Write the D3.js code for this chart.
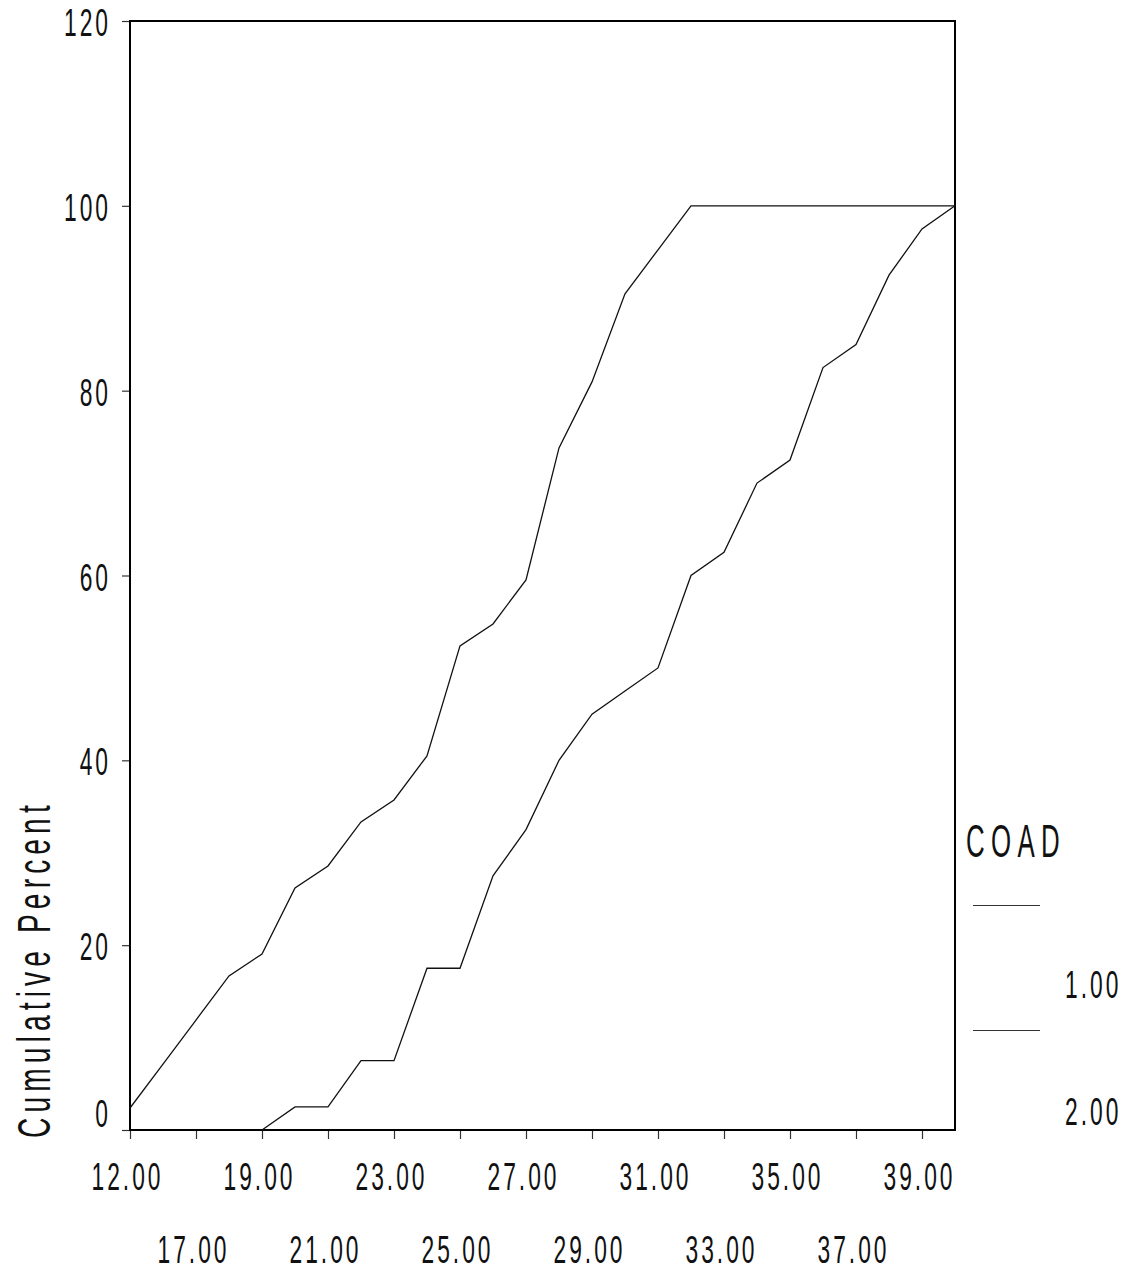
<!DOCTYPE html>
<html>
<head>
<meta charset="utf-8">
<script src="https://cdn.jsdelivr.net/npm/d3@7"></script>
<style>
  html, body { margin: 0; padding: 0; background: #fff; }
  svg { display: block; }
  text { font-family: "Liberation Sans", Arial, sans-serif; fill: #111; }
</style>
</head>
<body>
<svg id="chart" width="1132" height="1272"></svg>
<script>
// ---- data ----
const categories = ["12.00","16.00","17.00","18.00","19.00","20.00","21.00","22.00","23.00","24.00","25.00","26.00","27.00","28.00","29.00","30.00","31.00","32.00","33.00","34.00","35.00","36.00","37.00","38.00","39.00","40.00"];
const xTickLabels = ["12.00","17.00","19.00","21.00","23.00","25.00","27.00","29.00","31.00","33.00","35.00","37.00","39.00"];
const yTicks = [0, 20, 40, 60, 80, 100, 120];
const seriesNames = ["1.00", "2.00"];
const coad1 = [2.38,7.14,11.90,16.67,19.05,26.19,28.57,33.33,35.71,40.48,52.38,54.76,59.52,73.81,80.95,90.48,95.24,100,100,100,100,100,100,100,100,100];
const coad2 = [null,null,null,null,0,2.5,2.5,7.5,7.5,17.5,17.5,27.5,32.5,40,45,47.5,50,60,62.5,70,72.5,82.5,85,92.5,97.5,100];
const legendTitle = "COAD";
const yTitle = "Cumulative Percent";

// ---- layout ----
const svg = d3.select("#chart");
const L = 130, R = 955, T = 21, B = 1130;
const x = d3.scalePoint().domain(categories).range([L, R]).padding(0);
const y = d3.scaleLinear().domain([0, 120]).range([B, T]);

const SX = 0.6, FS = 38, LS = 5;

// y axis
const gy = svg.append("g").attr("transform", `translate(${L},0)`)
  .call(d3.axisLeft(y).tickValues(yTicks).tickSize(8).tickSizeOuter(0).tickFormat(d3.format("d")));
gy.select(".domain").remove();
gy.selectAll(".tick line").attr("stroke", "#333").attr("stroke-width", 1.2);
gy.selectAll(".tick text")
  .attr("x", 0).attr("dy", null).attr("y", 0)
  .attr("font-size", FS).attr("letter-spacing", LS)
  .style("font-family", '"Liberation Sans", Arial, sans-serif')
  .attr("text-anchor", "end")
  .attr("transform", d => `translate(${-19}, ${d === 0 ? -3.5 : 14.5}) scale(${SX},1)`);

// x axis
const gx = svg.append("g").attr("transform", `translate(0,${B})`)
  .call(d3.axisBottom(x).tickValues(xTickLabels).tickSize(9).tickSizeOuter(0));
gx.select(".domain").remove();
gx.selectAll(".tick line").attr("stroke", "#333").attr("stroke-width", 1.2);
gx.selectAll(".tick text")
  .attr("x", 0).attr("dy", null).attr("y", 0)
  .attr("font-size", FS).attr("letter-spacing", LS)
  .style("font-family", '"Liberation Sans", Arial, sans-serif')
  .attr("text-anchor", "middle")
  .attr("transform", (d, i) => `translate(-3, ${i % 2 === 0 ? 60 : 133}) scale(${SX},1)`);

// frame
svg.append("rect").attr("x", L).attr("y", T).attr("width", R - L).attr("height", B - T)
  .attr("fill", "none").attr("stroke", "#000").attr("stroke-width", 2);

// lines
const line = d3.line()
  .defined(d => d != null)
  .x((d, i) => x(categories[i]))
  .y(d => y(d));
[coad1, coad2].forEach(s => {
  svg.append("path").datum(s).attr("d", line)
    .attr("fill", "none").attr("stroke", "#111").attr("stroke-width", 1.3)
    .attr("stroke-linejoin", "miter");
});

// y title
svg.append("text")
  .attr("transform", "translate(50,1138) rotate(-90) scale(0.6,1)")
  .attr("font-size", 47).attr("letter-spacing", 8.5)
  .text(yTitle);

// legend
svg.append("text")
  .attr("transform", "translate(966,857) scale(0.55,1)")
  .attr("font-size", 47).attr("letter-spacing", 11.5)
  .text(legendTitle);
const legY = [905.5, 1030.5];
const legTextY = [998, 1125];
seriesNames.forEach((n, i) => {
  svg.append("line").attr("x1", 973).attr("x2", 1040).attr("y1", legY[i]).attr("y2", legY[i])
    .attr("stroke", "#333").attr("stroke-width", 1.2);
  svg.append("text")
    .attr("transform", `translate(1065,${legTextY[i]}) scale(${SX},1)`)
    .attr("font-size", FS).attr("letter-spacing", LS)
    .text(n);
});
</script>
</body>
</html>
